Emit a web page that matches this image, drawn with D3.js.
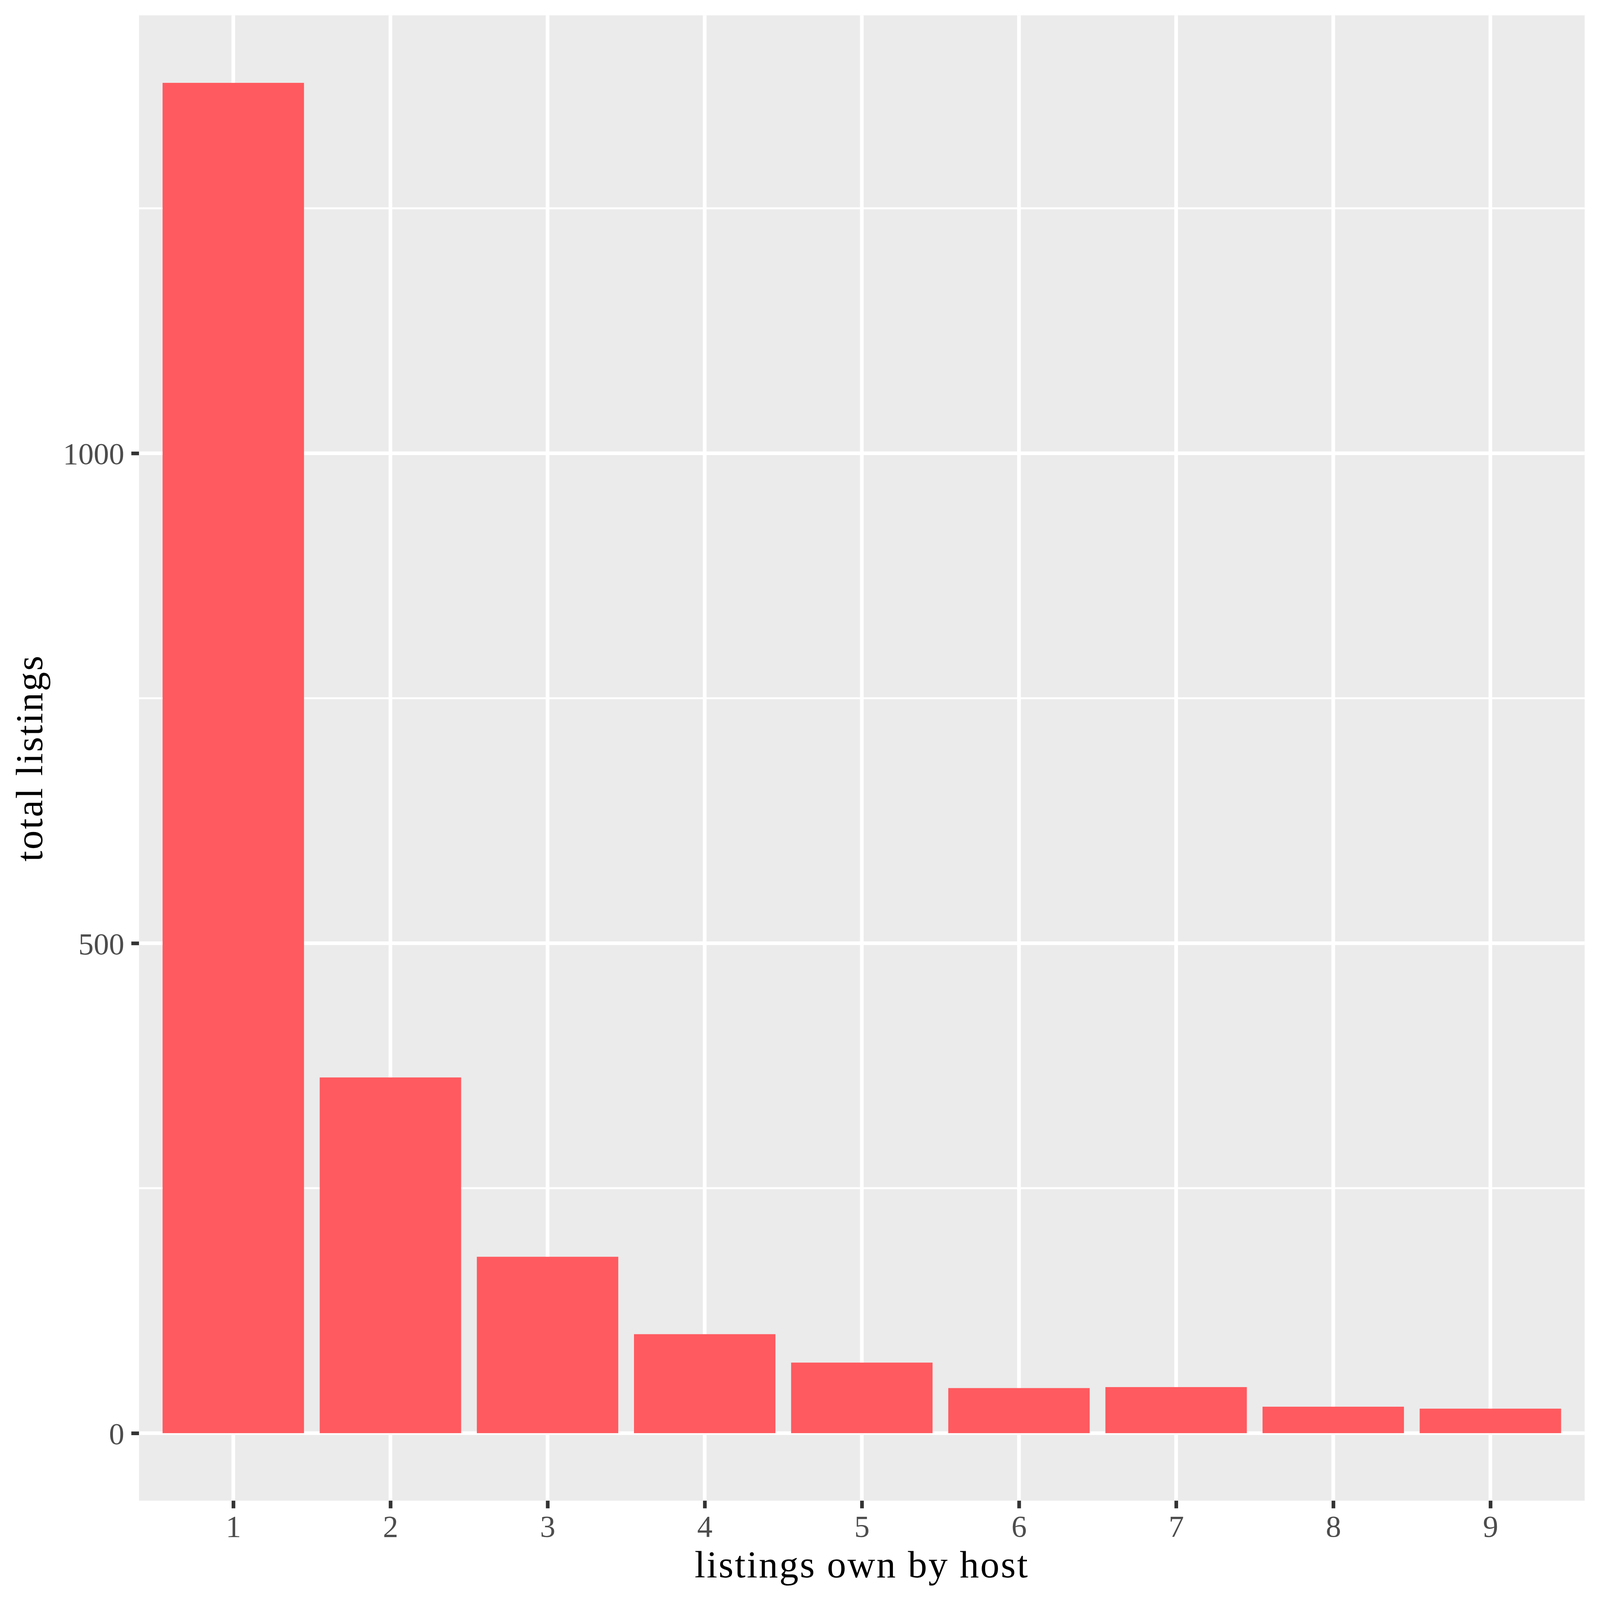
<!DOCTYPE html>
<html>
<head>
<meta charset="utf-8">
<script src="https://cdn.jsdelivr.net/npm/d3@7"></script>
<style>
  html, body { margin: 0; padding: 0; background: #fff; overflow: hidden; }
  #chart { display: block; width: 100vw; height: 100vh; }
  svg text { font-family: "Liberation Serif", "DejaVu Serif", serif; }
</style>
</head>
<body>
<svg id="chart"></svg>
<script>
const hostListings = ["1", "2", "3", "4", "5", "6", "7", "8", "9"];
const totalListings = [1378, 363, 180, 101, 72, 46, 47, 27, 25];
const yTicks = [0, 500, 1000];
const yMinorTicks = [250, 750, 1250];

const w = 4800;
const h = 4800;
const panel = { left: 417, right: 4754, top: 46, bottom: 4502 };

const svg = d3.select('#chart')
  .attr('viewBox', `0 0 ${w} ${h}`)
  .attr('preserveAspectRatio', 'xMidYMid meet');

const maxY = d3.max(totalListings);
const yScale = d3.scaleLinear()
  .domain([-0.05 * maxY, 1.05 * maxY])
  .range([panel.bottom, panel.top]);

const xScale = d3.scalePoint()
  .domain(hostListings)
  .range([panel.left, panel.right])
  .padding(0.6);

const barWidth = xScale.step() * 0.9;

// panel background
svg.append('rect')
  .attr('x', panel.left)
  .attr('y', panel.top)
  .attr('width', panel.right - panel.left)
  .attr('height', panel.bottom - panel.top)
  .attr('fill', '#ebebeb');

// grid lines
svg.append('g')
  .selectAll('line')
  .data(yMinorTicks)
  .enter()
  .append('line')
  .attr('x1', panel.left)
  .attr('x2', panel.right)
  .attr('y1', d => yScale(d))
  .attr('y2', d => yScale(d))
  .attr('stroke', '#fff')
  .attr('stroke-width', 6);

svg.append('g')
  .selectAll('line')
  .data(yTicks)
  .enter()
  .append('line')
  .attr('x1', panel.left)
  .attr('x2', panel.right)
  .attr('y1', d => yScale(d))
  .attr('y2', d => yScale(d))
  .attr('stroke', '#fff')
  .attr('stroke-width', 11);

svg.append('g')
  .selectAll('line')
  .data(hostListings)
  .enter()
  .append('line')
  .attr('x1', d => xScale(d))
  .attr('x2', d => xScale(d))
  .attr('y1', panel.top)
  .attr('y2', panel.bottom)
  .attr('stroke', '#fff')
  .attr('stroke-width', 11);

// bars
svg.append('g')
  .selectAll('rect')
  .data(hostListings)
  .enter()
  .append('rect')
  .attr('x', d => xScale(d) - barWidth / 2)
  .attr('width', barWidth)
  .attr('y', (d, i) => yScale(totalListings[i]))
  .attr('height', (d, i) => yScale(0) - yScale(totalListings[i]))
  .attr('fill', '#ff5a5f');

// axes
const xAxis = d3.axisBottom(xScale).tickSize(23).tickPadding(20);
const xg = svg.append('g')
  .attr('transform', 'translate(0,' + panel.bottom + ')')
  .call(xAxis);
xg.select('.domain').remove();
xg.selectAll('.tick line').attr('stroke', '#333').attr('stroke-width', 11);
xg.selectAll('.tick text')
  .attr('fill', '#4d4d4d')
  .attr('font-size', 92)
  .attr('dy', '0.71em');

const yAxis = d3.axisLeft(yScale)
  .tickValues(yTicks)
  .tickFormat(d3.format('d'))
  .tickSize(23)
  .tickPadding(21);
const yg = svg.append('g')
  .attr('transform', 'translate(' + panel.left + ',0)')
  .call(yAxis);
yg.select('.domain').remove();
yg.selectAll('.tick line').attr('stroke', '#333').attr('stroke-width', 11);
yg.selectAll('.tick text')
  .attr('fill', '#4d4d4d')
  .attr('font-size', 92)
  .attr('dy', '0.35em');

// titles
svg.append('text')
  .attr('x', (panel.left + panel.right) / 2)
  .attr('y', 4732)
  .attr('text-anchor', 'middle')
  .attr('font-size', 115)
  .attr('letter-spacing', 4)
  .attr('fill', '#000')
  .text('listings own by host');

svg.append('text')
  .attr('transform', 'translate(126,' + (panel.top + panel.bottom) / 2 + ') rotate(-90)')
  .attr('text-anchor', 'middle')
  .attr('font-size', 115)
  .attr('letter-spacing', 4)
  .attr('fill', '#000')
  .text('total listings');
</script>
</body>
</html>
